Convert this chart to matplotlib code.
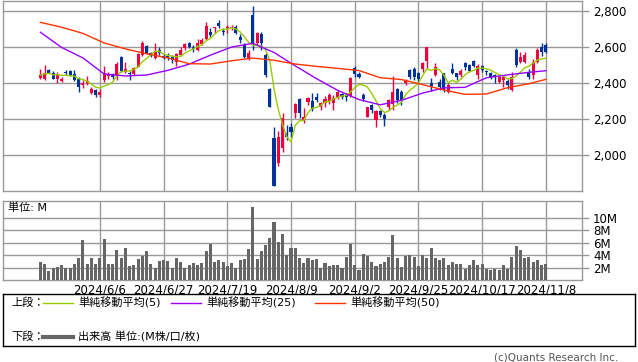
import pandas as pd
import numpy as np
import matplotlib
matplotlib.use("Agg")
import matplotlib.pyplot as plt

plt.rcParams['font.family'] = ['DejaVu Sans', 'Noto Sans CJK JP']

# =========================
# 1. Data
# =========================
holidays = ['2024-07-15', '2024-08-12', '2024-09-16', '2024-09-23', '2024-10-14', '2024-11-04']
dates = pd.bdate_range('2024-05-17', '2024-11-08', freq='C', holidays=holidays)

open_ = [2427, 2421, 2473, 2458, 2421, 2414, 2464, 2469, 2451, 2425,
         2392, 2399, 2347, 2362, 2334, 2418, 2440, 2451, 2440, 2543,
         2464, 2458, 2451, 2492, 2556, 2606, 2565, 2538, 2584, 2551,
         2551, 2547, 2519, 2556, 2593, 2625, 2602, 2584, 2617, 2643,
         2686, 2704, 2732, 2691, 2704, 2704, 2713, 2658, 2612, 2532,
         2778, 2621, 2673, 2554, 2366, 2094, 1956, 2039, 2126, 2159,
         2233, 2311, 2192, 2298, 2303, 2325, 2266, 2288, 2301, 2288,
         2325, 2340, 2334, 2331, 2482, 2451, 2334, 2214, 2279, 2196,
         2246, 2224, 2266, 2285, 2366, 2353, 2399, 2473, 2477, 2458,
         2477, 2525, 2403, 2445, 2408, 2455, 2353, 2477, 2455, 2445,
         2514, 2501, 2525, 2445, 2495, 2469, 2458, 2445, 2408, 2418,
         2414, 2362, 2584, 2519, 2519, 2458, 2445, 2519, 2602, 2612]
high = [2479, 2501, 2479, 2466, 2464, 2436, 2473, 2473, 2473, 2432,
        2418, 2440, 2377, 2366, 2366, 2495, 2464, 2458, 2519, 2551,
        2519, 2469, 2490, 2565, 2634, 2610, 2575, 2625, 2602, 2562,
        2565, 2556, 2569, 2599, 2621, 2630, 2612, 2643, 2649, 2739,
        2704, 2710, 2750, 2704, 2723, 2723, 2723, 2673, 2621, 2584,
        2828, 2686, 2684, 2565, 2371, 2159, 2137, 2233, 2168, 2181,
        2292, 2316, 2261, 2325, 2344, 2344, 2298, 2329, 2344, 2334,
        2362, 2347, 2344, 2436, 2497, 2464, 2344, 2270, 2285, 2251,
        2251, 2233, 2311, 2440, 2372, 2362, 2421, 2477, 2492, 2464,
        2517, 2599, 2431, 2510, 2421, 2458, 2399, 2510, 2458, 2477,
        2519, 2506, 2528, 2504, 2501, 2473, 2464, 2451, 2440, 2443,
        2421, 2464, 2597, 2573, 2575, 2481, 2532, 2593, 2625, 2621]
low = [2423, 2418, 2458, 2421, 2399, 2408, 2445, 2440, 2414, 2353,
       2371, 2390, 2340, 2325, 2325, 2408, 2421, 2425, 2418, 2464,
       2458, 2418, 2445, 2488, 2551, 2562, 2547, 2532, 2556, 2532,
       2528, 2514, 2495, 2551, 2584, 2593, 2575, 2580, 2612, 2639,
       2658, 2676, 2704, 2667, 2676, 2695, 2673, 2621, 2538, 2528,
       2584, 2612, 2584, 2432, 2266, 1832, 1941, 2021, 2085, 2100,
       2205, 2205, 2181, 2279, 2248, 2298, 2251, 2266, 2285, 2251,
       2311, 2314, 2303, 2325, 2436, 2431, 2301, 2211, 2233, 2159,
       2215, 2163, 2251, 2251, 2288, 2279, 2390, 2421, 2418, 2408,
       2464, 2482, 2359, 2440, 2362, 2353, 2344, 2451, 2418, 2432,
       2473, 2464, 2492, 2425, 2464, 2445, 2425, 2399, 2403, 2377,
       2366, 2359, 2492, 2510, 2514, 2421, 2425, 2510, 2551, 2565]
close = [2445, 2458, 2458, 2425, 2451, 2425, 2458, 2445, 2418, 2377,
         2403, 2410, 2366, 2334, 2351, 2458, 2451, 2432, 2506, 2469,
         2477, 2451, 2482, 2562, 2621, 2569, 2556, 2575, 2565, 2538,
         2538, 2528, 2562, 2584, 2615, 2602, 2588, 2625, 2639, 2717,
         2667, 2710, 2717, 2682, 2713, 2713, 2676, 2639, 2543, 2569,
         2621, 2676, 2621, 2445, 2270, 1832, 2104, 2205, 2104, 2131,
         2285, 2233, 2214, 2320, 2255, 2307, 2288, 2311, 2334, 2320,
         2353, 2325, 2325, 2427, 2451, 2436, 2311, 2266, 2251, 2246,
         2224, 2200, 2307, 2353, 2307, 2307, 2412, 2432, 2436, 2421,
         2510, 2599, 2384, 2492, 2381, 2362, 2390, 2458, 2432, 2469,
         2488, 2469, 2495, 2495, 2473, 2464, 2432, 2432, 2432, 2436,
         2390, 2436, 2501, 2543, 2556, 2436, 2519, 2584, 2575, 2575]

# volume in millions
volume = [2.9, 2.6, 1.5, 2.0, 2.1, 2.4, 2.0, 1.9, 2.6, 3.6,
          6.4, 2.6, 3.6, 2.6, 3.6, 6.6, 2.6, 2.6, 4.8, 3.6,
          5.2, 2.3, 2.4, 3.4, 3.9, 4.7, 2.6, 2.0, 3.1, 3.2,
          3.1, 2.0, 3.6, 2.9, 2.0, 2.4, 2.8, 2.4, 2.8, 4.7,
          5.8, 2.9, 3.2, 2.9, 2.3, 2.8, 2.0, 3.2, 3.4, 5.0,
          11.7, 3.4, 4.7, 5.6, 6.8, 9.3, 6.1, 7.4, 4.0, 5.2,
          5.2, 3.6, 2.8, 3.6, 3.2, 3.4, 2.0, 2.8, 2.3, 2.4,
          2.4, 2.0, 3.7, 5.8, 2.4, 1.6, 4.2, 3.9, 2.9, 2.3,
          2.6, 2.9, 3.7, 7.2, 3.6, 2.1, 3.9, 4.0, 3.7, 2.3,
          4.0, 3.6, 5.2, 3.6, 3.2, 3.6, 2.4, 2.9, 2.6, 2.6,
          1.8, 2.4, 3.2, 2.4, 2.6, 1.8, 1.6, 1.8, 1.6, 2.4,
          1.8, 3.7, 5.5, 4.8, 3.6, 3.7, 2.9, 3.2, 2.4, 2.6]

# 25 / 50 day averages (every 5 sessions)
ma_idx = [0, 5, 10, 15, 20, 25, 30, 35, 40, 45, 50, 55, 60,
          65, 70, 75, 80, 85, 90, 95, 100, 105, 110, 115, 119]
ma25 = [2682, 2598, 2540, 2451, 2440, 2445, 2471, 2505, 2555, 2600, 2621, 2570, 2496,
        2425, 2360, 2309, 2280, 2305, 2345, 2374, 2377, 2430, 2446, 2460, 2469]
ma50 = [2737, 2710, 2676, 2623, 2590, 2563, 2540, 2508, 2506, 2524, 2539, 2527, 2506,
        2493, 2482, 2470, 2430, 2420, 2392, 2362, 2338, 2340, 2375, 2397, 2421]

legend_labels = ['単純移動平均(5)', '単純移動平均(25)', '単純移動平均(50)']
ma_colors = ['#99cc00', '#9900ff', '#ff3300']
up_color = '#f0003c'
down_color = '#003399'
grid_color = '#999999'

df = pd.DataFrame({"open": open_, "high": high, "low": low,
                   "close": close, "volume": volume}, index=dates)
df["ma5"] = df["close"].rolling(5, min_periods=1).mean()
x = np.arange(len(df))

tick_pos = x[14::15]
tick_labels = [f"{d.year}/{d.month}/{d.day}" for d in df.index[tick_pos]]

# =========================
# 2. Figure layout (pixel boxes)
# =========================
W, H = 638, 362
fig = plt.figure(figsize=(W / 100, H / 100), dpi=100)


def box(l, t, r, b):
    return [l / W, 1 - b / H, (r - l) / W, (b - t) / H]


ax = fig.add_axes(box(3, 0.7, 582, 190.7))
axv = fig.add_axes(box(3, 201, 582, 280.3))

for a in (ax, axv):
    a.set_xlim(-8.8, 127.5)
    a.set_xticks(tick_pos)
    a.grid(True, color=grid_color, lw=1)
    a.set_axisbelow(True)
    for s in a.spines.values():
        s.set_color(grid_color)
        s.set_linewidth(1)
    a.yaxis.tick_right()
    a.tick_params(axis='y', length=5, width=1, color=grid_color, labelsize=8.5, pad=3)
    a.tick_params(axis='x', length=0)

# =========================
# 3. Candles + moving averages
# =========================
o = df["open"].values
c = df["close"].values
up = c >= o
colors = np.where(up, up_color, down_color)
body_low = np.minimum(o, c)
body_h = np.maximum(np.abs(c - o), 3)

ax.vlines(x, df["low"], df["high"], colors=colors, lw=1, zorder=3)
ax.bar(x, body_h, bottom=body_low, width=0.72, color=colors, zorder=4)

ax.plot(x, df["ma5"], color=ma_colors[0], lw=1, zorder=5)
ax.plot(ma_idx, ma25, color=ma_colors[1], lw=1, zorder=5)
ax.plot(ma_idx, ma50, color=ma_colors[2], lw=1, zorder=5)

ax.set_ylim(1804, 2857)
ax.set_yticks([2000, 2200, 2400, 2600, 2800])
ax.set_yticklabels([f"{v:,}" for v in [2000, 2200, 2400, 2600, 2800]])
ax.set_xticklabels([])

# =========================
# 4. Volume
# =========================
axv.bar(x, df["volume"], width=0.72, color='#666666', zorder=3)
axv.set_ylim(0, 12.67)
axv.set_yticks([2, 4, 6, 8, 10])
axv.set_yticklabels([f"{v}M" for v in [2, 4, 6, 8, 10]])
axv.set_xticklabels(tick_labels, fontsize=8.5)
axv.tick_params(axis='x', pad=2)
axv.text(5 / 579, 1 - 7 / 79.3, "単位: M", transform=axv.transAxes,
         fontsize=8, va='center', ha='left')

# =========================
# 5. Legend box
# =========================
lg = fig.add_axes(box(3, 294, 635, 346))
lg.set_xlim(0, 632)
lg.set_ylim(52, 0)
lg.set_xticks([])
lg.set_yticks([])
for s in lg.spines.values():
    s.set_color('black')
    s.set_linewidth(1)

lg.text(8, 9, "上段：", fontsize=8, va='center')
starts = [40, 168, 312]
for sx, lab, col in zip(starts, legend_labels, ma_colors):
    lg.plot([sx, sx + 30], [9, 9], color=col, lw=1)
    lg.text(sx + 35, 9, lab, fontsize=8, va='center')

lg.text(8, 43, "下段：", fontsize=8, va='center')
lg.plot([40, 70], [43, 43], color='#666666', lw=3)
lg.text(75, 43, "出来高 単位:(M株/口/枚)", fontsize=8, va='center')

fig.text(618 / W, 1 - 357 / H, "(c)Quants Research Inc.", ha='right', va='center',
         fontsize=7.5, color='#555555')

fig.savefig("out.png", dpi=100)
